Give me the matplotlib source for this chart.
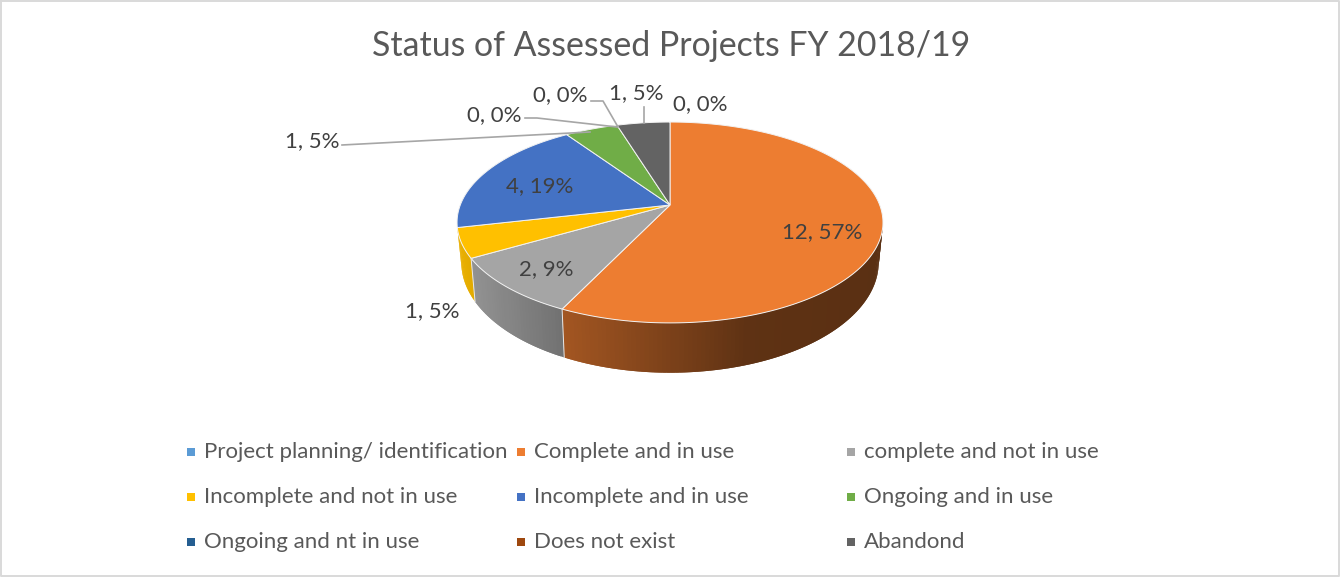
import matplotlib
matplotlib.use("Agg")
import matplotlib.pyplot as plt
from matplotlib.colors import to_rgb
import numpy as np

plt.rcParams["font.family"] = ["Lato", "DejaVu Sans"]

title = "Status of Assessed Projects FY 2018/19"
categories = ["Project planning/ identification", "Complete and in use", "complete and not in use",
              "Incomplete and not in use", "Incomplete and in use", "Ongoing and in use",
              "Ongoing and nt in use", "Does not exist", "Abandond"]
values = [0, 12, 2, 1, 4, 1, 0, 0, 1]
percents = [0, 57, 9, 5, 19, 5, 0, 0, 5]
colors = ["#5B9BD5", "#ED7D31", "#A5A5A5", "#FFC000", "#4472C4", "#70AD47", "#255E91", "#9E480E", "#636363"]

# where each data label sits, in picture pixels
label_xy = [(700, 104), (822, 232), (546, 269), (432, 311), (540, 186), (312, 141), (494, 115), (560, 95), (636, 93)]
leaders = {
    5: [(342, 145), (590, 132)],
    6: [(525, 118), (537, 118), (617, 127)],
    7: [(591, 101), (603, 101), (618, 127)],
    8: [(644, 107), (644, 123)],
}

# pie geometry: tilted disc, perspective fitted to the picture
cx, cy = 670, 205
rx, ry, k = 209.7, 97.4, 0.174


def top_rim(a):
    s, c = np.sin(a), np.cos(a)
    d = 1 + k * c
    return cx + rx * s / d, cy - ry * c / d


def bottom_rim(a):
    x, y = top_rim(a)
    return cx + 0.98 * (x - cx), cy + 1.1 * (y - cy) + 38


def shade(x):
    return np.interp(x, [457, 475, 563, 750, 883], [0.92, 0.88, 0.69, 0.40, 0.38])


fig = plt.figure(figsize=(13.4, 5.77), dpi=100)
ax = fig.add_axes([0, 0, 1, 1])
ax.set_xlim(0, 1340)
ax.set_ylim(577, 0)
ax.axis("off")
fig.patch.set_facecolor("white")

# outer frame
ax.plot([1, 1338.5, 1338.5, 1, 1], [1, 1, 576, 576, 1], color="#D9D9D9", lw=1.4)

edges = np.radians(np.cumsum([0] + values) * 360 / sum(values))

# side of the disc, drawn in overlapping strips so the shading runs left to right
side_start, side_end = np.radians(97), np.radians(257)
for i, col in enumerate(colors):
    a0, a1 = max(edges[i], side_start), min(edges[i + 1], side_end)
    if a1 <= a0:
        continue
    n = int(np.degrees(a1 - a0)) + 1
    steps = np.linspace(a0, a1, n + 1)
    rgb = np.array(to_rgb(col))
    for j in range(n):
        aa = np.linspace(steps[j], steps[min(j + 2, n)], 5)
        tx, ty = top_rim(aa)
        bx, by = bottom_rim(aa)
        f = shade(top_rim(steps[j])[0])
        ax.fill(np.r_[tx, bx[::-1]], np.r_[ty, by[::-1]], facecolor=rgb * f, edgecolor="none", lw=0, zorder=2)

# top face
for i, col in enumerate(colors):
    if values[i] == 0:
        continue
    aa = np.linspace(edges[i], edges[i + 1], 200)
    x, y = top_rim(aa)
    ax.fill(np.r_[cx, x], np.r_[cy, y], facecolor=col, edgecolor="#F2F2F2", lw=0.7, zorder=3)

# seams on the side
for a in edges:
    if side_start < a < side_end:
        tx, ty = top_rim(a)
        bx, by = bottom_rim(a)
        ax.plot([tx, bx], [ty, by], color="#E8E8E8", lw=0.7, zorder=4)

# data labels
for i, (x, y) in enumerate(label_xy):
    ax.text(x, y, f"{values[i]}, {percents[i]}%", ha="center", va="center", fontsize=16, color="#404040", zorder=6)
for pts in leaders.values():
    xs, ys = zip(*pts)
    ax.plot(xs, ys, color="#A6A6A6", lw=1.2, zorder=5)

ax.text(671, 46, title, ha="center", va="center", fontsize=24.4, color="#595959")

# legend, three even columns
for i, name in enumerate(categories):
    col, row = i % 3, i // 3
    x = 191 + 330 * col
    y = 452 + 45 * row
    ax.scatter([x], [y], marker="s", s=30, color=colors[i], linewidths=0)
    ax.text(x + 13, y, name, ha="left", va="center", fontsize=16, color="#595959")

fig.savefig("out.png", dpi=100)
plt.close(fig)
